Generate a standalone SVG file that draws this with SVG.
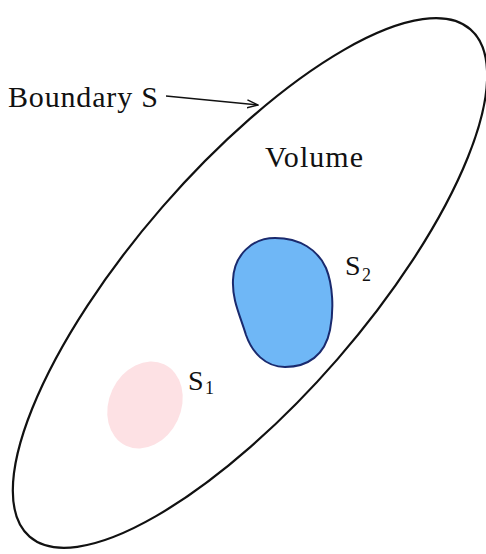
<svg xmlns="http://www.w3.org/2000/svg" width="486" height="554" viewBox="0 0 486 554">
<style>
.lbl{font-family:"Liberation Serif","Times New Roman",serif;font-size:30px;fill:#111}
.sym{font-family:"Liberation Serif","Times New Roman",serif;font-size:28px;fill:#111}
.sub{font-family:"Liberation Serif","Times New Roman",serif;font-size:18px;fill:#111}
</style>
<defs>
<marker id="ah" viewBox="0 0 12 10" refX="11" refY="5" markerWidth="12" markerHeight="10" markerUnits="userSpaceOnUse" orient="auto">
<path d="M0,1 L11,5 L0,9" fill="none" stroke="#111" stroke-width="1.5"/>
</marker>
</defs>
<rect width="486" height="554" fill="#fff"/>
<g id="boundary">
<ellipse cx="250" cy="283" rx="336" ry="116" transform="rotate(-49 250 283)" fill="none" stroke="#111" stroke-width="2.2"/>
</g>
<g id="s1">
<ellipse cx="145" cy="405" rx="36" ry="45" transform="rotate(25 145 405)" fill="#fde1e4"/>
<text class="sym" x="188" y="390">S</text><text class="sub" x="205" y="394">1</text>
</g>
<g id="s2">
<path d="M275,238 C300,238 318,250 326,268 C333,285 334,310 330,330 C325,355 308,367 285,367 C265,367 252,352 246,335 C240,315 232,300 233,280 C234,255 252,238 275,238 Z" fill="#6fb7f6" stroke="#1a2a6e" stroke-width="2"/>
<text class="sym" x="345" y="275">S</text><text class="sub" x="362" y="281">2</text>
</g>
<g id="volume-label">
<text class="lbl" x="265" y="167" textLength="98">Volume</text>
</g>
<g id="boundary-label">
<text class="lbl" x="8" y="107" textLength="150">Boundary S</text>
</g>
<g id="connectors">
<line x1="166" y1="96" x2="258" y2="105" stroke="#111" stroke-width="1.5" marker-end="url(#ah)"/>
</g>
</svg>
